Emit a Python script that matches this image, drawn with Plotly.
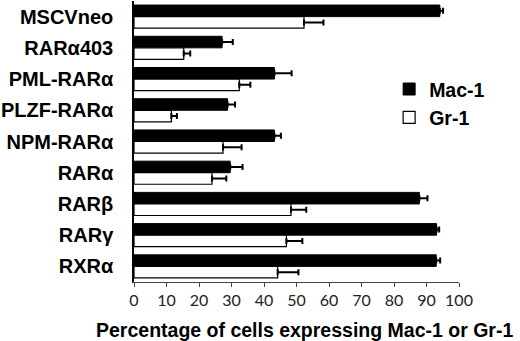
import plotly.graph_objects as go

categories = ["MSCVneo", "RARα403", "PML-RARα", "PLZF-RARα", "NPM-RARα",
              "RARα", "RARβ", "RARγ", "RXRα"]
mac1 = [94.1, 27.1, 43.2, 28.8, 43.2, 29.6, 87.8, 93.1, 93.0]
mac1_err = [1.0, 3.3, 5.3, 2.3, 2.0, 3.8, 2.5, 0.8, 1.2]
gr1 = [52.3, 15.3, 32.4, 11.5, 27.4, 24.0, 48.3, 46.9, 44.2]
gr1_err = [6.0, 2.0, 3.4, 1.7, 5.7, 4.4, 4.7, 4.9, 6.4]
x_ticks = [0, 10, 20, 30, 40, 50, 60, 70, 80, 90, 100]
x_title = "Percentage of cells expressing Mac-1 or Gr-1"

zeros = [0] * len(categories)

fig = go.Figure()
fig.add_trace(go.Bar(
    y=categories, x=mac1, orientation="h", name="Mac-1",
    marker=dict(color="black", line=dict(color="black", width=1)),
    error_x=dict(type="data", array=mac1_err, arrayminus=zeros, symmetric=False,
                 color="black", thickness=2, width=3),
))
fig.add_trace(go.Bar(
    y=categories, x=gr1, orientation="h", name="Gr-1",
    marker=dict(color="white", line=dict(color="black", width=1.2)),
    error_x=dict(type="data", array=gr1_err, arrayminus=zeros, symmetric=False,
                 color="black", thickness=2, width=3),
))

fig.add_annotation(
    text=x_title, xref="paper", yref="paper", x=0.525, y=-0.17,
    xanchor="center", yanchor="middle", showarrow=False,
    font=dict(family="Liberation Sans", size=19.5, color="black", weight="bold"),
)

fig.update_layout(
    width=520, height=341,
    margin=dict(l=129, r=61, t=1, b=59),
    paper_bgcolor="white", plot_bgcolor="white",
    barmode="group", bargap=0.26, bargroupgap=0.0,
    showlegend=True,
    legend=dict(x=0.785, y=0.755, xanchor="left", yanchor="top",
                font=dict(family="Liberation Sans", size=19.5, color="black", weight="bold"),
                bgcolor="rgba(0,0,0,0)", itemwidth=30),
    xaxis=dict(range=[0, 100], tickvals=x_ticks, ticks="outside", ticklen=4,
               tickcolor="#444", showline=True, linecolor="#444", linewidth=1,
               showgrid=False, zeroline=False,
               tickfont=dict(family="Lato", size=16, color="#222")),
    yaxis=dict(autorange="reversed", showline=True, linecolor="black", linewidth=1.5,
               showgrid=False, zeroline=False, ticks="", ticklabelstandoff=15,
               tickfont=dict(family="Liberation Sans", size=20, color="black",
                             weight="bold")),
)

fig.write_html("out.html", config={"displayModeBar": False},
               post_script="document.body.style.margin='0';")
